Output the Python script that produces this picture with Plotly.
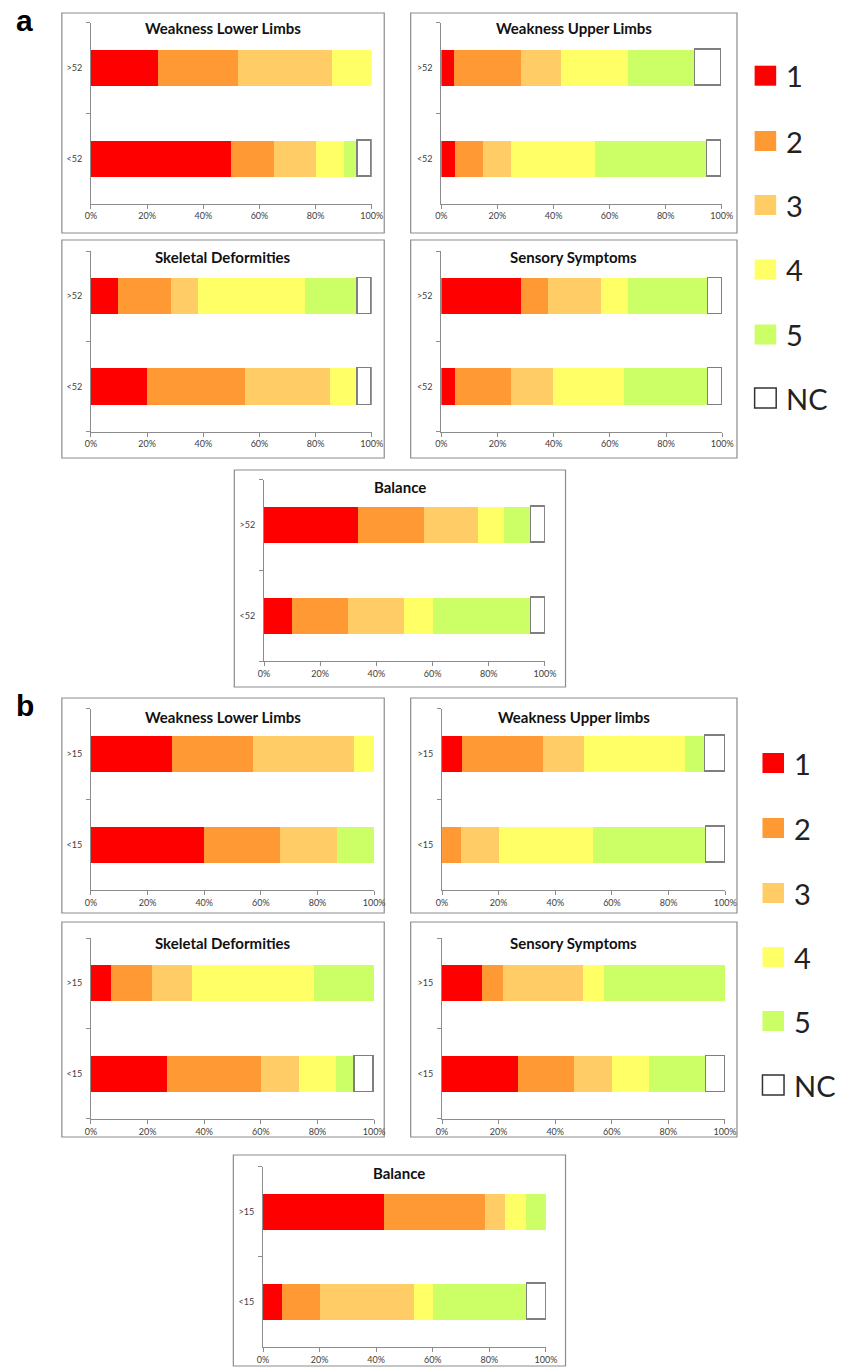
import plotly.graph_objects as go

W, H = 845, 1368

# ---------------- data ----------------
scores = ["1", "2", "3", "4", "5", "NC"]
colors = ["#FF0000", "#FF9933", "#FFCC66", "#FFFF66", "#CCFF66", "#FFFFFF"]

groups_a = ["<52", ">52"]
groups_b = ["<15", ">15"]

titles_a = ["Weakness Lower Limbs", "Weakness Upper Limbs", "Skeletal Deformities",
            "Sensory Symptoms", "Balance"]
titles_b = ["Weakness Lower Limbs", "Weakness Upper limbs", "Skeletal Deformities",
            "Sensory Symptoms", "Balance"]

# percentages per score [1, 2, 3, 4, 5, NC]
a_wll_hi = [23.8, 28.6, 33.3, 14.3, 0, 0]
a_wll_lo = [50, 15, 15, 10, 5, 5]
a_wul_hi = [4.8, 23.8, 14.3, 23.8, 23.8, 9.5]
a_wul_lo = [5, 10, 10, 30, 40, 5]
a_skel_hi = [9.5, 19.0, 9.5, 38.1, 19.0, 4.8]
a_skel_lo = [20, 35, 30, 10, 0, 5]
a_sens_hi = [28.6, 9.5, 19.0, 9.5, 28.6, 4.8]
a_sens_lo = [5, 20, 15, 25, 30, 5]
a_bal_hi = [33.3, 23.8, 19.0, 9.5, 9.5, 4.8]
a_bal_lo = [10, 20, 20, 10, 35, 5]

b_wll_hi = [28.6, 28.6, 35.7, 7.1, 0, 0]
b_wll_lo = [40, 26.7, 20, 0, 13.3, 0]
b_wul_hi = [7.1, 28.6, 14.3, 35.7, 7.1, 7.1]
b_wul_lo = [0, 6.7, 13.3, 33.3, 40, 6.7]
b_skel_hi = [7.1, 14.3, 14.3, 42.9, 21.4, 0]
b_skel_lo = [26.7, 33.3, 13.3, 13.3, 6.7, 6.7]
b_sens_hi = [14.3, 7.1, 28.6, 7.1, 42.9, 0]
b_sens_lo = [26.7, 20, 13.3, 13.3, 20, 6.7]
b_bal_hi = [42.9, 35.7, 7.1, 7.1, 7.1, 0]
b_bal_lo = [6.7, 13.3, 33.3, 6.7, 33.3, 6.7]

x_ticks = [0, 20, 40, 60, 80, 100]
x_ticktext = ["0%", "20%", "40%", "60%", "80%", "100%"]

# ---------------- layout geometry (pixels) ----------------
def px(x):
    return x / W

def py(y):
    return 1 - y / H

panels = [
    # title, groups, lo, hi, plot x0, plot x1, top bar centre, bottom bar centre, box, title y
    (titles_a[0], groups_a, a_wll_lo, a_wll_hi, 86.7, 373.3, 67.9, 158.4, (57, 13, 386, 233), 28),
    (titles_a[1], groups_a, a_wul_lo, a_wul_hi, 444.3, 730.5, 67.9, 158.4, (413, 13, 746, 233), 28),
    (titles_a[2], groups_a, a_skel_lo, a_skel_hi, 86.7, 373.3, 296.2, 386.5, (57, 240, 386, 458), 257),
    (titles_a[3], groups_a, a_sens_lo, a_sens_hi, 444.3, 731.0, 296.2, 386.5, (413, 240, 746, 458), 257),
    (titles_a[4], groups_a, a_bal_lo, a_bal_hi, 263.3, 550.0, 525.0, 615.7, (233, 470, 571, 687), 487),
    (titles_b[0], groups_b, b_wll_lo, b_wll_hi, 86.7, 375.7, 754.2, 844.7, (57, 698, 386, 913), 717),
    (titles_b[1], groups_b, b_wul_lo, b_wul_hi, 445.0, 734.0, 754.2, 844.7, (413, 698, 746, 913), 717),
    (titles_b[2], groups_b, b_skel_lo, b_skel_hi, 86.7, 375.7, 983.3, 1073.7, (57, 922, 386, 1137), 943),
    (titles_b[3], groups_b, b_sens_lo, b_sens_hi, 445.0, 733.7, 983.3, 1073.7, (413, 922, 746, 1137), 943),
    (titles_b[4], groups_b, b_bal_lo, b_bal_hi, 262.3, 551.0, 1211.7, 1301.7, (232, 1155, 571, 1366), 1173),
]

fig = go.Figure()
layout_axes = {}
shapes = []
annotations = []

FONT = "Lato"
AXIS_COLOR = "#8C8C8C"

for i, (title, groups, lo, hi, x0, x1, ct, cb, box, ty) in enumerate(panels, start=1):
    xa = "x" if i == 1 else f"x{i}"
    ya = "y" if i == 1 else f"y{i}"
    for k, s in enumerate(scores):
        vals = [lo[k], hi[k]]
        vals = [v if v > 0 else None for v in vals]
        is_nc = s == "NC"
        fig.add_trace(go.Bar(
            y=groups, x=vals, orientation="h", name=s,
            marker=dict(color=colors[k],
                        line=dict(color="#7F7F7F" if is_nc else colors[k],
                                  width=1.5 if is_nc else 0)),
            width=0.4, showlegend=False, xaxis=xa, yaxis=ya,
            hoverinfo="x+y+name",
        ))
    half = (cb - ct) / 2
    top, bot = ct - half, cb + half
    kx = "xaxis" if i == 1 else f"xaxis{i}"
    ky = "yaxis" if i == 1 else f"yaxis{i}"
    layout_axes[kx] = dict(
        domain=[px(x0), px(x1)], anchor=ya, range=[0, 100],
        tickvals=x_ticks, ticktext=x_ticktext, showgrid=False, zeroline=False,
        showline=True, linecolor=AXIS_COLOR, linewidth=1,
        ticks="outside", ticklen=4, tickcolor=AXIS_COLOR,
        tickfont=dict(family=FONT, size=9, color="#404040"), fixedrange=True,
    )
    layout_axes[ky] = dict(
        domain=[py(bot), py(top)], anchor=xa, type="category",
        categoryorder="array", categoryarray=groups, range=[-0.5, 1.5],
        showgrid=False, zeroline=False, showline=True, linecolor=AXIS_COLOR,
        linewidth=1, ticks="outside", ticklen=4, tickcolor=AXIS_COLOR,
        tickson="boundaries", ticklabelstandoff=6,
        tickfont=dict(family=FONT, size=9, color="#404040"), fixedrange=True,
    )
    bx0, by0, bx1, by1 = box
    shapes.append(dict(type="rect", xref="paper", yref="paper",
                       x0=px(bx0), x1=px(bx1), y0=py(by1), y1=py(by0),
                       line=dict(color="#8C8C8C", width=1.2), fillcolor="rgba(0,0,0,0)",
                       layer="below"))
    annotations.append(dict(text=f"<b>{title}</b>", xref="paper", yref="paper",
                            x=px((bx0 + bx1) / 2), y=py(ty), xanchor="center",
                            yanchor="middle", showarrow=False,
                            font=dict(family=FONT, size=15, color="#111111")))

# panel letters
for letter, lx, ly in [("a", 19, 21), ("b", 19, 705)]:
    annotations.append(dict(text=f"<b>{letter}</b>", xref="paper", yref="paper",
                            x=px(lx), y=py(ly), xanchor="center", yanchor="middle",
                            showarrow=False,
                            font=dict(family="Liberation Sans", size=30, color="#000000")))

# legends (one per figure part)
legend_a_y = [75.7, 141, 205, 269.5, 334.5, 398]
legend_b_y = [763, 828, 893, 957, 1021, 1085]
for sx, ys in [(764, legend_a_y), (772, legend_b_y)]:
    for k, s in enumerate(scores):
        yc = ys[k]
        is_nc = s == "NC"
        shapes.append(dict(type="rect", xref="paper", yref="paper",
                           x0=px(sx), x1=px(sx + 22), y0=py(yc + 10), y1=py(yc - 10),
                           fillcolor=colors[k],
                           line=dict(color="#333333" if is_nc else colors[k],
                                     width=1.5 if is_nc else 0)))
        annotations.append(dict(text=s, xref="paper", yref="paper",
                                x=px(sx + 30), y=py(yc), xanchor="left", yanchor="middle",
                                showarrow=False,
                                font=dict(family=FONT, size=29, color="#222222")))

fig.update_layout(
    width=W, height=H, margin=dict(l=0, r=0, t=0, b=0),
    paper_bgcolor="white", plot_bgcolor="white",
    barmode="stack", showlegend=False, bargap=0,
    shapes=shapes, annotations=annotations, **layout_axes,
)

fig.write_html(
    "out.html",
    config={"displayModeBar": False},
    post_script="document.body.style.margin='0';document.body.style.overflow='hidden';",
)
